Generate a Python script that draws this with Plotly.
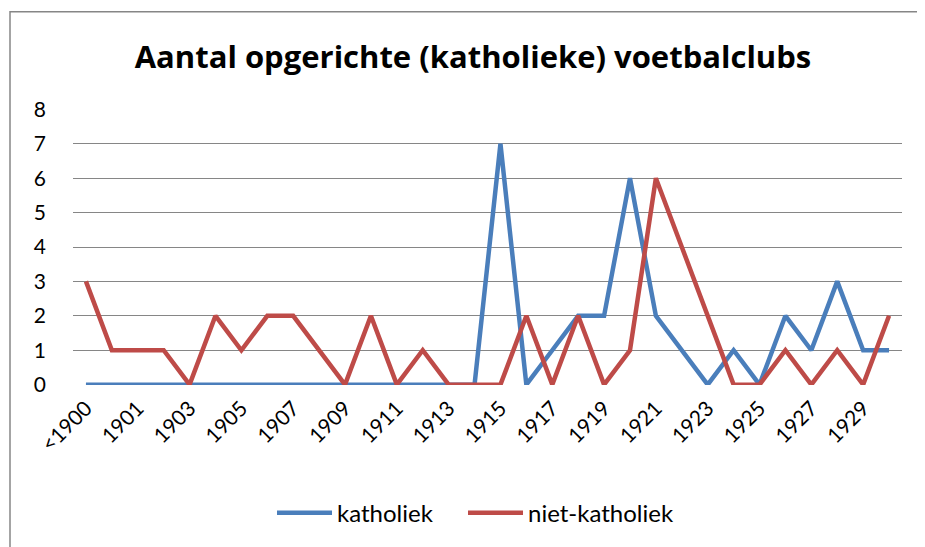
import plotly.graph_objects as go

categories = ["<1900"] + [str(y) for y in range(1900, 1931)]
katholiek = [0, 0, 0, 0, 0, 0, 0, 0, 0, 0, 0, 0, 0, 0, 0, 0,
             7, 0, 1, 2, 2, 6, 2, 1, 0, 1, 0, 2, 1, 3, 1, 1]
niet_katholiek = [3, 1, 1, 1, 0, 2, 1, 2, 2, 1, 0, 2, 0, 1, 0, 0,
                  0, 2, 0, 2, 0, 1, 6, 4, 2, 0, 0, 1, 0, 1, 0, 2]
tick_labels = categories[::2]
y_ticks = list(range(0, 9))

FONT = "Lato"
TITLE_FONT = "Open Sans"

fig = go.Figure()
fig.add_trace(go.Scatter(x=categories, y=katholiek, mode="lines", name="katholiek",
                         line=dict(color="#4A7EBB", width=4.5), legend="legend"))
fig.add_trace(go.Scatter(x=categories, y=niet_katholiek, mode="lines", name="niet-katholiek",
                         line=dict(color="#BE4B48", width=4.5), legend="legend2"))

# page has an 8px body margin; work in screen pixels and subtract it
OFF = 8
W, H = 925 - OFF, 547 - OFF
L, R, T, B = 73 - OFF, 23, 109 - OFF, 160
pw, ph = W - L - R, H - T - B

def px_x(x):
    return (x - OFF - L) / pw

def px_y(y):
    return (H - B - (y - OFF)) / ph

legend_style = dict(orientation="h", xanchor="left", xref="paper",
                    y=px_y(516), yanchor="middle", itemwidth=55,
                    font=dict(family=FONT, size=24, color="black"),
                    bgcolor="rgba(0,0,0,0)")

fig.update_layout(
    width=W, height=H,
    margin=dict(l=L, r=R, t=T, b=B, pad=0),
    paper_bgcolor="white", plot_bgcolor="white",
    font=dict(family=FONT, size=20, color="black"),
    title=dict(text="<b>Aantal opgerichte (katholieke) voetbalclubs</b>",
               font=dict(family=TITLE_FONT, size=31, color="black"),
               x=px_x(473), xref="paper", xanchor="center",
               y=1 - (57 - OFF) / H, yref="container", yanchor="middle"),
    xaxis=dict(type="category", categoryorder="array", categoryarray=categories,
               range=[-0.5, len(categories) - 0.5],
               tickmode="array", tickvals=tick_labels, ticktext=tick_labels,
               tickangle=-45, showgrid=False, showline=False, zeroline=False,
               ticks="", ticklabelstandoff=6,
               tickfont=dict(family=FONT, size=21)),
    yaxis=dict(range=[-0.01, 8.01], tickmode="array", tickvals=y_ticks,
               showgrid=True, gridcolor="#868686", gridwidth=1,
               zeroline=False, showline=False, ticks="",
               ticklabelstandoff=26,
               tickfont=dict(family=FONT, size=21)),
    legend=dict(x=px_x(272), **legend_style),
    legend2=dict(x=px_x(463), **legend_style),
    showlegend=True,
)

fig.add_shape(type="rect", xref="paper", yref="paper",
              x0=px_x(10), x1=px_x(960), y0=px_y(580), y1=px_y(11),
              line=dict(color="#868686", width=1.5), fillcolor="rgba(0,0,0,0)",
              layer="below")

fig.write_html("out.html")
